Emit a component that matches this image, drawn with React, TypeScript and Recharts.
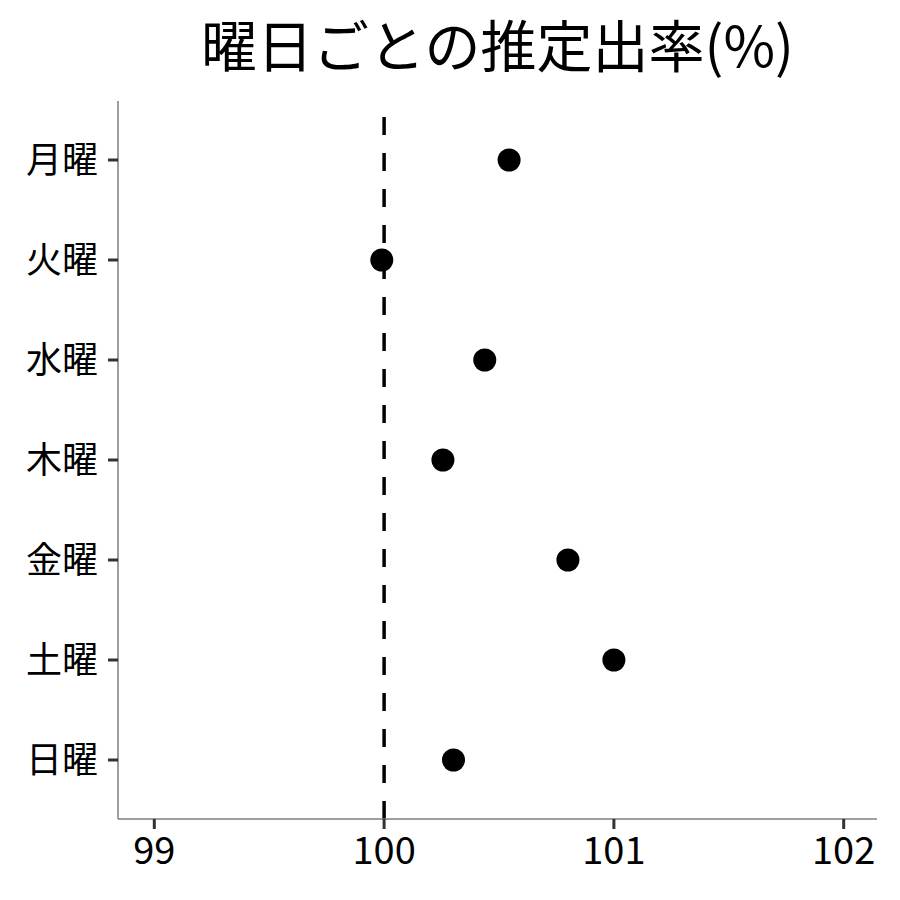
import { ReferenceLine, Scatter, ScatterChart, XAxis, YAxis } from "recharts";

const days = ["月曜", "火曜", "水曜", "木曜", "金曜", "土曜", "日曜"];
const rates = [100.544, 99.99, 100.438, 100.256, 100.8, 101.0, 100.302];
const xTicks = [99, 100, 101, 102];
const yTicks = [1, 2, 3, 4, 5, 6, 7];

const FONT = "'Noto Sans CJK JP', 'Noto Sans', sans-serif";

const data = days.map((day, i) => ({ day, idx: i + 1, rate: rates[i] }));

const Dot = (props: any) => (
  <circle cx={props.cx} cy={props.cy} r={11.5} fill="#000" />
);

export default function App() {
  return (
    <div
      style={{
        position: "absolute",
        left: 0,
        top: 0,
        width: 900,
        height: 900,
        background: "#fff",
        fontFamily: FONT,
      }}
    >
      <div
        style={{
          position: "absolute",
          left: 118,
          width: 759,
          top: 15,
          textAlign: "center",
          fontSize: 56,
          lineHeight: 1,
          color: "#000",
        }}
      >
        曜日ごとの推定出率(%)
      </div>
      <ScatterChart
        width={900}
        height={900}
        margin={{ top: 101, right: 23, bottom: 0, left: 0 }}
      >
        <XAxis
          type="number"
          dataKey="rate"
          domain={[98.842, 102.145]}
          ticks={xTicks}
          allowDataOverflow
          height={81}
          axisLine={{ stroke: "#7f7f7f", strokeWidth: 1.5 }}
          tickLine={{ stroke: "#333", strokeWidth: 3 }}
          tickSize={10}
          tickMargin={8}
          tick={{ fill: "#000", fontSize: 38, fontFamily: FONT }}
        />
        <YAxis
          type="number"
          dataKey="idx"
          domain={[0.41, 7.59]}
          ticks={yTicks}
          reversed
          allowDataOverflow
          width={118}
          tickFormatter={(v: number) => days[v - 1] ?? ""}
          axisLine={{ stroke: "#7f7f7f", strokeWidth: 1.5 }}
          tickLine={{ stroke: "#333", strokeWidth: 3 }}
          tickSize={10}
          tickMargin={10}
          tick={{ fill: "#000", fontSize: 36, fontFamily: FONT }}
        />
        <ReferenceLine
          x={100}
          stroke="#000"
          strokeWidth={3.5}
          strokeDasharray="18 18"
        />
        <Scatter data={data} shape={Dot} isAnimationActive={false} />
      </ScatterChart>
    </div>
  );
}
